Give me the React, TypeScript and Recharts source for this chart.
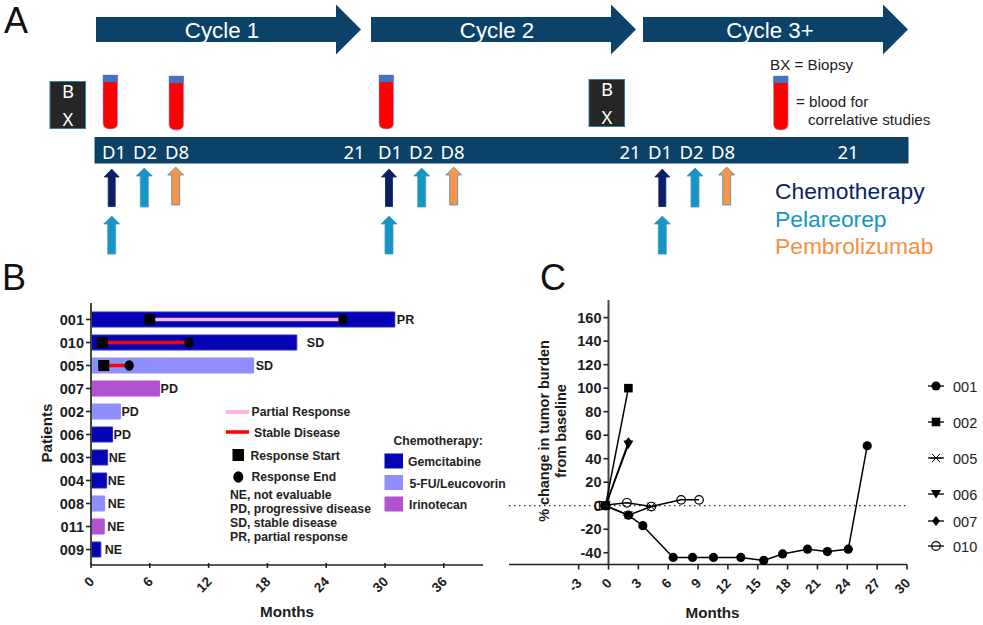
import React from 'react';
import {
  BarChart,
  Bar,
  Cell,
  LabelList,
  LineChart,
  Line,
  XAxis,
  YAxis,
  ReferenceLine,
  ReferenceDot,
} from 'recharts';

const SANS = '"Liberation Sans", Arial, sans-serif';
const NAVY = '#0c4268';
const DARK = '#1c1c1c';

const GEM = '#0404b4';
const FU = '#8e8efc';
const IRI = '#b052d2';

// panel B
const patients = ['001', '010', '005', '007', '002', '006', '003', '004', '008', '011', '009'];
const months = [31, 21, 16.6, 7, 3, 2.2, 1.7, 1.6, 1.4, 1.35, 1];
const status = ['PR', 'SD', 'SD', 'PD', 'PD', 'PD', 'NE', 'NE', 'NE', 'NE', 'NE'];
const regimen = [GEM, GEM, FU, IRI, FU, GEM, GEM, GEM, FU, IRI, GEM];
const labelGap = [2, 10, 2, 1, 1, 1, 1, 1, 3, 3, 4];
const monthTicksB = [0, 6, 12, 18, 24, 30, 36];

const responses = [
  { patient: '001', start: 6, end: 25.7, color: '#ffb4da' },
  { patient: '010', start: 1.15, end: 10, color: '#ff0000' },
  { patient: '005', start: 1.3, end: 3.9, color: '#ff0000' },
];

const barRows = patients.map((p, i) => ({ patient: p, months: months[i], status: status[i] }));

// panel C
const pt001 = [
  { x: -0.3, y: 0 }, { x: 2, y: -8 }, { x: 3.45, y: -17 }, { x: 6.5, y: -44 }, { x: 8.45, y: -44 },
  { x: 10.55, y: -44 }, { x: 13.3, y: -44 }, { x: 15.6, y: -46.5 }, { x: 17.5, y: -41 },
  { x: 20, y: -37 }, { x: 22, y: -39 }, { x: 24.1, y: -37 }, { x: 26, y: 51 },
];
const pt002 = [{ x: -0.3, y: 0 }, { x: 2, y: 100 }];
const pt005 = [{ x: -0.3, y: 0 }, { x: 2, y: -8 }, { x: 4.3, y: -0.7 }];
const pt006 = [{ x: -0.3, y: 0 }, { x: 2, y: 52 }];
const pt007 = [{ x: -0.3, y: 0 }, { x: 2, y: 54 }];
const pt010 = [{ x: -0.9, y: 0 }, { x: 1.85, y: 2.5 }, { x: 4.3, y: -0.7 }, { x: 7.3, y: 5 }, { x: 9.1, y: 5 }];

const monthTicksC = [-3, 0, 3, 6, 9, 12, 15, 18, 21, 24, 27, 30];
const burdenTicks = [-40, -20, 0, 20, 40, 60, 80, 100, 120, 140, 160];

type MarkerKind = 'circle' | 'square' | 'cross' | 'triangle' | 'diamond' | 'open';

const seriesC: { name: string; data: { x: number; y: number }[]; marker: MarkerKind; legendY: number }[] = [
  { name: '001', data: pt001, marker: 'circle', legendY: 386 },
  { name: '002', data: pt002, marker: 'square', legendY: 422 },
  { name: '005', data: pt005, marker: 'cross', legendY: 458 },
  { name: '006', data: pt006, marker: 'triangle', legendY: 494 },
  { name: '007', data: pt007, marker: 'diamond', legendY: 521 },
  { name: '010', data: pt010, marker: 'open', legendY: 546 },
];

function Marker({ kind, cx, cy }: { kind: MarkerKind; cx: number; cy: number }) {
  switch (kind) {
    case 'circle':
      return <circle cx={cx} cy={cy} r={4.6} fill="#000" />;
    case 'square':
      return <rect x={cx - 4.3} y={cy - 4.3} width={8.6} height={8.6} fill="#000" />;
    case 'cross':
      return (
        <path
          d={`M${cx - 4} ${cy - 4}L${cx + 4} ${cy + 4}M${cx - 4} ${cy + 4}L${cx + 4} ${cy - 4}M${cx - 5.5} ${cy}H${cx + 5.5}`}
          stroke="#000"
          strokeWidth={1}
          fill="none"
        />
      );
    case 'triangle':
      return <path d={`M${cx - 5} ${cy - 4}H${cx + 5}L${cx} ${cy + 4.5}Z`} fill="#000" />;
    case 'diamond':
      return <path d={`M${cx} ${cy - 5}L${cx + 4} ${cy}L${cx} ${cy + 5}L${cx - 4} ${cy}Z`} fill="#000" />;
    default:
      return <circle cx={cx} cy={cy} r={4.3} fill="#fff" fillOpacity={0} stroke="#000" strokeWidth={1.2} />;
  }
}

function RotatedTick({ x, y, payload }: any) {
  return (
    <g>
      <line x1={x} x2={x} y1={y - 8} y2={y - 3} stroke="#222" strokeWidth={1.6} />
      <text
        x={x + 4}
        y={y + 11.5}
        transform={`rotate(-45 ${x + 4} ${y + 11.5})`}
        textAnchor="end"
        fontFamily={SANS}
        fontSize={13.5}
        fontWeight="bold"
        fill={DARK}
      >
        {payload.value}
      </text>
    </g>
  );
}

// recharts hands tick functions the x of the label, 8px left of the axis line
function PatientTick({ x, y, payload }: any) {
  const ax = x + 8;
  return (
    <g>
      <line x1={ax - 5} x2={ax} y1={y} y2={y} stroke="#222" strokeWidth={1.6} />
      <text
        x={ax - 7}
        y={y + 5}
        textAnchor="end"
        fontFamily={SANS}
        fontSize={14.5}
        fontWeight="bold"
        fill={DARK}
      >
        {payload.value}
      </text>
    </g>
  );
}

// the y axis of panel C crosses at month 0, not at the left edge of the plot
const C_AXIS_SHIFT = 99.5;

function BurdenTick({ x, y, payload }: any) {
  const ax = x + 8 + C_AXIS_SHIFT;
  return (
    <g>
      <line x1={ax - 5} x2={ax} y1={y} y2={y} stroke="#222" strokeWidth={1.6} />
      <text
        x={ax - 7}
        y={y + 5}
        textAnchor="end"
        fontFamily={SANS}
        fontSize={14.5}
        fontWeight="bold"
        fill={DARK}
      >
        {payload.value}
      </text>
    </g>
  );
}

function StatusLabel({ x, y, width, height, value, index }: any) {
  return (
    <text
      x={x + width + labelGap[index]}
      y={y + height / 2 + 4.5}
      fontFamily={SANS}
      fontSize={12.5}
      fontWeight="bold"
      fill={DARK}
    >
      {value}
    </text>
  );
}

function PatientBars() {
  return (
    <BarChart
      width={500}
      height={325}
      layout="vertical"
      data={barRows}
      margin={{ top: 3, right: 17, bottom: 0, left: 0 }}
      style={{ position: 'absolute', left: 0, top: 300 }}
    >
      <XAxis
        type="number"
        domain={[0, 40]}
        ticks={monthTicksB}
        interval={0}
        height={60}
        tickLine={false}
        tick={<RotatedTick />}
        tickMargin={0}
        axisLine={{ stroke: '#222', strokeWidth: 1.6 }}
      />
      <YAxis
        type="category"
        dataKey="patient"
        width={91}
        interval={0}
        tickLine={false}
        tick={<PatientTick />}
        padding={{ top: 5, bottom: 4 }}
        axisLine={{ stroke: '#444', strokeWidth: 2 }}
      />
      <Bar dataKey="months" barSize={15} isAnimationActive={false}>
        {barRows.map((row, i) => (
          <Cell key={row.patient} fill={regimen[i]} stroke={regimen[i] === GEM ? '#2a2acc' : regimen[i]} />
        ))}
        <LabelList dataKey="status" content={<StatusLabel />} />
      </Bar>
      {responses.map((r) => (
        <ReferenceLine
          key={r.patient}
          segment={[
            { x: r.start, y: r.patient },
            { x: r.end, y: r.patient },
          ]}
          stroke={r.color}
          strokeWidth={3.5}
        />
      ))}
      {responses.map((r) => (
        <ReferenceDot
          key={r.patient + 'start'}
          x={r.start}
          y={r.patient}
          shape={(p: any) => <rect x={p.cx - 5.5} y={p.cy - 5.5} width={11} height={11} fill="#000" />}
        />
      ))}
      {responses.map((r) => (
        <ReferenceDot
          key={r.patient + 'end'}
          x={r.end}
          y={r.patient}
          shape={(p: any) => <ellipse cx={p.cx} cy={p.cy} rx={4.6} ry={5.2} fill="#000" />}
        />
      ))}
    </BarChart>
  );
}

function BurdenLines() {
  return (
    <LineChart
      width={483}
      height={325}
      margin={{ top: 0, right: 76, bottom: 0, left: 0 }}
      style={{ position: 'absolute', left: 500, top: 300 }}
    >
      <XAxis
        dataKey="x"
        type="number"
        domain={[-10, 30]}
        ticks={monthTicksC}
        interval={0}
        height={60.5}
        tickLine={false}
        tick={<RotatedTick />}
        allowDuplicatedCategory={false}
        axisLine={{ stroke: '#222', strokeWidth: 1.6 }}
      />
      <YAxis
        type="number"
        dataKey="y"
        domain={[-50, 175]}
        ticks={burdenTicks}
        interval={0}
        width={9}
        axisLine={false}
        tickLine={false}
        tick={<BurdenTick />}
      />
      <ReferenceLine y={0} stroke="#333" strokeDasharray="1.5 3.5" strokeWidth={1.2} />
      <ReferenceLine x={0} stroke="#444" strokeWidth={2} />
      {seriesC.map((s) => (
        <Line
          key={s.name}
          data={s.data}
          dataKey="y"
          name={s.name}
          stroke="#000"
          strokeWidth={1.5}
          isAnimationActive={false}
          dot={(p: any) => <Marker key={`${s.name}-${p.index}`} kind={s.marker} cx={p.cx} cy={p.cy} />}
        />
      ))}
    </LineChart>
  );
}

// panel A schematic
const cycleArrows = [
  { label: 'Cycle 1', x: 96, head: 336, tip: 361, textX: 222 },
  { label: 'Cycle 2', x: 371, head: 611, tip: 636, textX: 497 },
  { label: 'Cycle 3+', x: 643, head: 883, tip: 908, textX: 770 },
];
const biopsyBoxes = [
  { x: 50, y: 81.5 },
  { x: 589, y: 79.5 },
];
const tubes = [
  { x: 103, y: 75 },
  { x: 169, y: 76 },
  { x: 379, y: 75 },
  { x: 773.5, y: 76 },
];
const dayLabels = [
  ['D1', 114], ['D2', 145], ['D8', 177], ['21', 354],
  ['D1', 390], ['D2', 421], ['D8', 452.5], ['21', 630],
  ['D1', 660], ['D2', 691.5], ['D8', 723], ['21', 848],
] as const;

const CHEMO = '#0a1f66';
const PELA = '#1694c4';
const PEMB = '#f79646';
const doseArrows = [
  { cx: 111.7, top: 169, bottom: 206.5, fill: CHEMO, edge: CHEMO, wide: false },
  { cx: 144.3, top: 168, bottom: 207, fill: PELA, edge: '#3aa0c4', wide: true },
  { cx: 175.7, top: 167, bottom: 205, fill: PEMB, edge: '#3f8fb0', wide: true },
  { cx: 111.7, top: 216, bottom: 254, fill: PELA, edge: '#3aa0c4', wide: true },
  { cx: 389, top: 169, bottom: 206.5, fill: CHEMO, edge: CHEMO, wide: false },
  { cx: 421.7, top: 168, bottom: 207, fill: PELA, edge: '#3aa0c4', wide: true },
  { cx: 453.7, top: 167, bottom: 205, fill: PEMB, edge: '#3f8fb0', wide: true },
  { cx: 389, top: 216, bottom: 254, fill: PELA, edge: '#3aa0c4', wide: true },
  { cx: 662.3, top: 169, bottom: 206.5, fill: CHEMO, edge: CHEMO, wide: false },
  { cx: 695, top: 168, bottom: 207, fill: PELA, edge: '#3aa0c4', wide: true },
  { cx: 726.7, top: 167, bottom: 205, fill: PEMB, edge: '#3f8fb0', wide: true },
  { cx: 662.3, top: 216, bottom: 254, fill: PELA, edge: '#3aa0c4', wide: true },
];

const legendNotes = ['NE, not evaluable', 'PD, progressive disease', 'SD, stable disease', 'PR, partial response'];
const regimenLegend = [
  { name: 'Gemcitabine', color: GEM, y: 453.5, textX: 408, base: 466 },
  { name: '5-FU/Leucovorin', color: FU, y: 475, textX: 409.5, base: 488 },
  { name: 'Irinotecan', color: IRI, y: 496.5, textX: 409, base: 508.5 },
];

function Tube({ x, y }: { x: number; y: number }) {
  const w = 14.6;
  const h = 54;
  return (
    <g>
      <path
        d={`M${x} ${y}H${x + w}V${y + h - 6}Q${x + w} ${y + h} ${x + w / 2} ${y + h}Q${x} ${y + h} ${x} ${y + h - 6}Z`}
        fill="#ff0000"
        stroke="#8fa3c8"
        strokeWidth={0.6}
      />
      <rect x={x} y={y} width={w} height={7} fill="#4472c4" />
    </g>
  );
}

function Overlay() {
  const label = { fontFamily: SANS, fontSize: 12.2, fontWeight: 'bold' as const, fill: '#222' };
  return (
    <svg width={983} height={625} style={{ position: 'absolute', left: 0, top: 0, pointerEvents: 'none' }}>
      <g fontFamily={SANS} fontSize={36} fill="#111">
        <text x={4} y={33}>A</text>
        <text x={2} y={290}>B</text>
        <text x={540} y={290}>C</text>
      </g>

      {cycleArrows.map((a) => (
        <g key={a.label}>
          <path
            d={`M${a.x} 17H${a.head}V4.5L${a.tip} 29.5L${a.head} 54.5V42H${a.x}Z`}
            fill={NAVY}
          />
          <text x={a.textX} y={37.5} textAnchor="middle" fontFamily={SANS} fontSize={22.3} fill="#fff">
            {a.label}
          </text>
        </g>
      ))}

      {biopsyBoxes.map((b) => (
        <g key={b.x}>
          <rect x={b.x} y={b.y} width={35.5} height={47} fill="#262626" stroke="#2f7f9f" strokeWidth={1} />
          <g fontFamily='"Noto Sans"' fontSize={18.5} fill="#fff" textAnchor="middle">
            <text x={b.x + 18} y={b.y + 16}>B</text>
            <text x={b.x + 18} y={b.y + 44.5}>X</text>
          </g>
        </g>
      ))}

      {tubes.map((t) => (
        <Tube key={t.x} x={t.x} y={t.y} />
      ))}

      <rect x={94.5} y={137} width={814} height={26.5} fill={NAVY} />
      {dayLabels.map(([txt, x], i) => (
        <text key={i} x={x} y={158.5} textAnchor="middle" fontFamily='"Noto Sans"' fontSize={18.5} fill="#fff">
          {txt}
        </text>
      ))}

      {doseArrows.map((a, i) => {
        const hw = a.wide ? 8 : 7.5;
        const sw = a.wide ? 4 : 3.5;
        const hb = a.top + 8;
        return (
          <path
            key={i}
            d={`M${a.cx} ${a.top}L${a.cx + hw} ${hb}H${a.cx + sw}V${a.bottom}H${a.cx - sw}V${hb}H${a.cx - hw}Z`}
            fill={a.fill}
            stroke={a.edge}
            strokeWidth={0.8}
          />
        );
      })}

      <g fontFamily={SANS} fontSize={15.2} fill="#222">
        <text x={770} y={69.5}>BX = Biopsy</text>
        <text x={796} y={106.5}>= blood for</text>
        <text x={808} y={125}>correlative studies</text>
      </g>
      <g fontFamily={SANS} fontSize={22.8}>
        <text x={775} y={199} fill="#0a1f66">Chemotherapy</text>
        <text x={775} y={226.5} fill={PELA}>Pelareorep</text>
        <text x={775} y={254} fill="#f78f3f">Pembrolizumab</text>
      </g>

      {/* panel B legend */}
      <line x1={226} x2={249} y1={412} y2={412} stroke="#ffb4da" strokeWidth={4} />
      <line x1={226} x2={249} y1={432} y2={432} stroke="#ff0000" strokeWidth={3.5} />
      <rect x={232.5} y={449} width={11.5} height={12} fill="#000" />
      <ellipse cx={238.3} cy={477} rx={5} ry={5.8} fill="#000" />
      <text {...label} x={251.5} y={416}>Partial Response</text>
      <text {...label} x={254} y={437}>Stable Disease</text>
      <text {...label} x={250.5} y={460}>Response Start</text>
      <text {...label} x={251.5} y={480.5}>Response End</text>
      {legendNotes.map((n, i) => (
        <text key={n} {...label} x={230} y={499 + i * 14}>{n}</text>
      ))}
      <text {...label} x={393.5} y={445}>Chemotherapy:</text>
      {regimenLegend.map((r) => (
        <g key={r.name}>
          <rect x={384.5} y={r.y} width={18.5} height={15} fill={r.color} />
          <text {...label} x={r.textX} y={r.base}>{r.name}</text>
        </g>
      ))}

      {/* panel C titles and legend */}
      <g
        fontFamily={SANS}
        fontSize={14.4}
        fontWeight="bold"
        fill={DARK}
        textAnchor="middle"
      >
        <text x={548.5} y={431} transform="rotate(-90 548.5 431)">% change in tumor burden</text>
        <text x={566} y={431} transform="rotate(-90 566 431)">from baseline</text>
      </g>
      {seriesC.map((s) => (
        <g key={s.name}>
          <line x1={928} x2={944} y1={s.legendY} y2={s.legendY} stroke="#000" strokeWidth={1.3} />
          <Marker kind={s.marker} cx={936} cy={s.legendY} />
          <text x={953} y={s.legendY + 5.5} fontFamily={SANS} fontSize={14.5} fill="#222">
            {s.name}
          </text>
        </g>
      ))}
      <g fontFamily={SANS} fontSize={15.2} fontWeight="bold" fill={DARK}>
        <text x={287} y={616.5} textAnchor="middle">Months</text>
        <text x={712.5} y={617.5} textAnchor="middle">Months</text>
        <text x={52} y={433} textAnchor="middle" transform="rotate(-90 52 433)">Patients</text>
      </g>
    </svg>
  );
}

export default function App() {
  return (
    <div style={{ position: 'absolute', left: 0, top: 0, width: 983, height: 625, background: '#fff', overflow: 'hidden' }}>
      <PatientBars />
      <BurdenLines />
      <Overlay />
    </div>
  );
}
